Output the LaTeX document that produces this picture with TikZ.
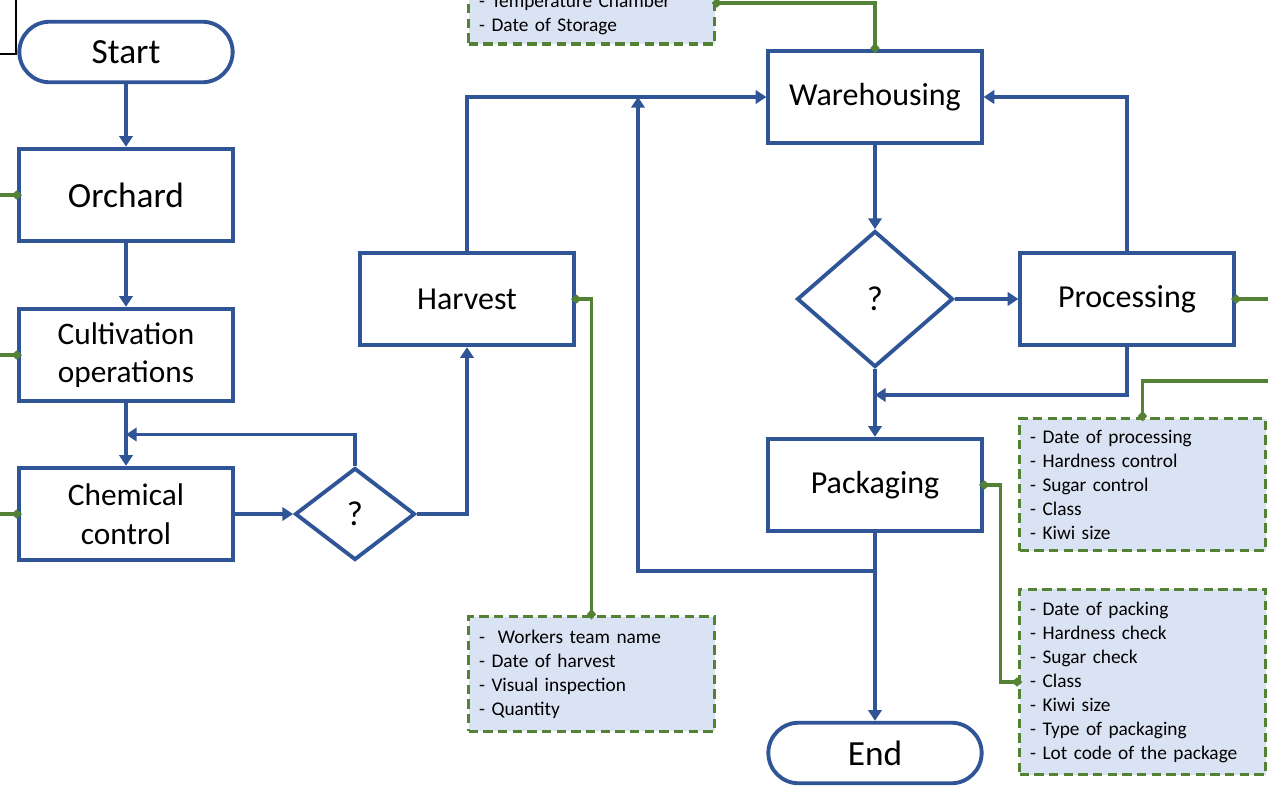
\documentclass[tikz,border=0pt]{standalone}
\usepackage{fontspec}
\setmainfont{Carlito}
\usetikzlibrary{positioning,arrows.meta,shapes.geometric}
\definecolor{flowblue}{RGB}{47,85,151}
\definecolor{recgreen}{RGB}{84,130,53}
\definecolor{recfill}{RGB}{218,227,243}
\tikzset{
  term/.style={draw=flowblue,line width=2.9pt,rounded corners=22.7pt,minimum width=160pt,minimum height=45.4pt,font=\fontsize{26.5}{30}\selectfont},
  act/.style={draw=flowblue,line width=2.9pt,minimum width=160pt,minimum height=69.4pt,align=center,font=\fontsize{24}{29}\selectfont},
  dec/.style={diamond,draw=flowblue,line width=2.9pt,inner sep=0pt,font=\fontsize{26}{30}\selectfont},
  info/.style={draw=recgreen,line width=2.6pt,dash pattern=on 7pt off 4pt,fill=recfill,text width=168.5pt,align=left,inner xsep=8pt,font=\fontsize{14.5}{18}\selectfont},
  flow/.style={draw=flowblue,line width=2.9pt,-{Triangle[length=8pt,width=10pt]}},
  rec/.style={draw=recgreen,line width=2.4pt,{Diamond[length=8pt,width=7pt]}-{Diamond[length=8pt,width=7pt]},shorten <=-3.5pt,shorten >=-3.5pt}
}
\begin{document}
\begin{tikzpicture}[x=0.75pt,y=-0.75pt]
\useasboundingbox (0,0) rectangle (1268,793);
% flow chart
\node[term] (start) at (126,52) {Start};
\node[act,font=\fontsize{26.5}{30}\selectfont] (orch) at (126,195) {Orchard};
\node[act,font=\fontsize{23.5}{29}\selectfont] (cult) at (126,355) {Cultivation\\operations};
\node[act,font=\fontsize{23.5}{29}\selectfont] (chem) at (126,514) {Chemical\\control};
\node[dec,minimum width=90pt,minimum height=69pt] (q1) at (355,514) {?};
\node[act] (harv) at (467,299) {Harvest};
\node[act] (ware) at (875,97) {Warehousing};
\node[dec,minimum width=117pt,minimum height=102pt] (q2) at (875,299) {?};
\node[act] (proc) at (1127,299) {Processing};
\node[act] (pack) at (875,485) {Packaging};
\node[term] (fin) at (875,753) {End};
% recorded data
\node[info,minimum height=45pt] (store) at (591.5,14) {- Temperature Chamber\\- Date of Storage};
\node[info,minimum height=86pt] (hinfo) at (591.5,674) {-~ Workers team name\\- Date of harvest\\- Visual inspection\\- Quantity};
\node[info,minimum height=99pt] (pinfo) at (1142.5,484.5) {- Date of processing\\- Hardness control\\- Sugar control\\- Class\\- Kiwi size};
\node[info,minimum height=139pt] (kinfo) at (1142.5,682) {- Date of packing\\- Hardness check\\- Sugar check\\- Class\\- Kiwi size\\- Type of packaging\\- Lot code of the package};
% joints
\path (cult.south) -- (chem.north) coordinate[midway] (m1);
\coordinate (j1) at (638,97); \coordinate (j2) at (875,571); \coordinate (j3) at (875,395);
\draw[flow] (start) -- (orch); \draw[flow] (orch) -- (cult); \draw[flow] (cult) -- (chem);
\draw[flow] (chem) -- (q1); \draw[flow] (q1.north) |- (m1);
\draw[flow] (q1.east) -| (harv.south);
\draw[flow] (harv.north) |- (ware.west);
\draw[flow] (ware) -- (q2); \draw[flow] (q2) -- (proc);
\draw[flow] (proc.north) |- (ware.east);
\draw[flow] (q2) -- (pack); \draw[flow] (proc.south) |- (j3);
\draw[flow] (pack) -- (fin); \draw[flow] (j2) -| (j1);
% data links
\foreach \n in {orch,cult,chem} {\coordinate (\n-in) at ([xshift=-30pt]\n.west); \draw[rec] (\n.west) -- (\n-in);}
\coordinate (sx) at ([yshift=8.25pt]store.east);
\draw[rec] (ware.north) |- (sx);
\draw[rec] (harv.east) -| (hinfo.north);
\coordinate (pr) at ([xshift=30pt]proc.east); \draw[rec] (proc.east) -- (pr);
\coordinate (pi) at (1300,381); \draw[rec] (pi) -| (pinfo.north);
\draw[rec] (pack.east) -- ++(17,0) |- (kinfo.west);
\coordinate (k1) at (16,-10); \coordinate (k2) at (-10,54);
\draw[line width=1.5pt] (k1) |- (k2);
\end{tikzpicture}
\end{document}
